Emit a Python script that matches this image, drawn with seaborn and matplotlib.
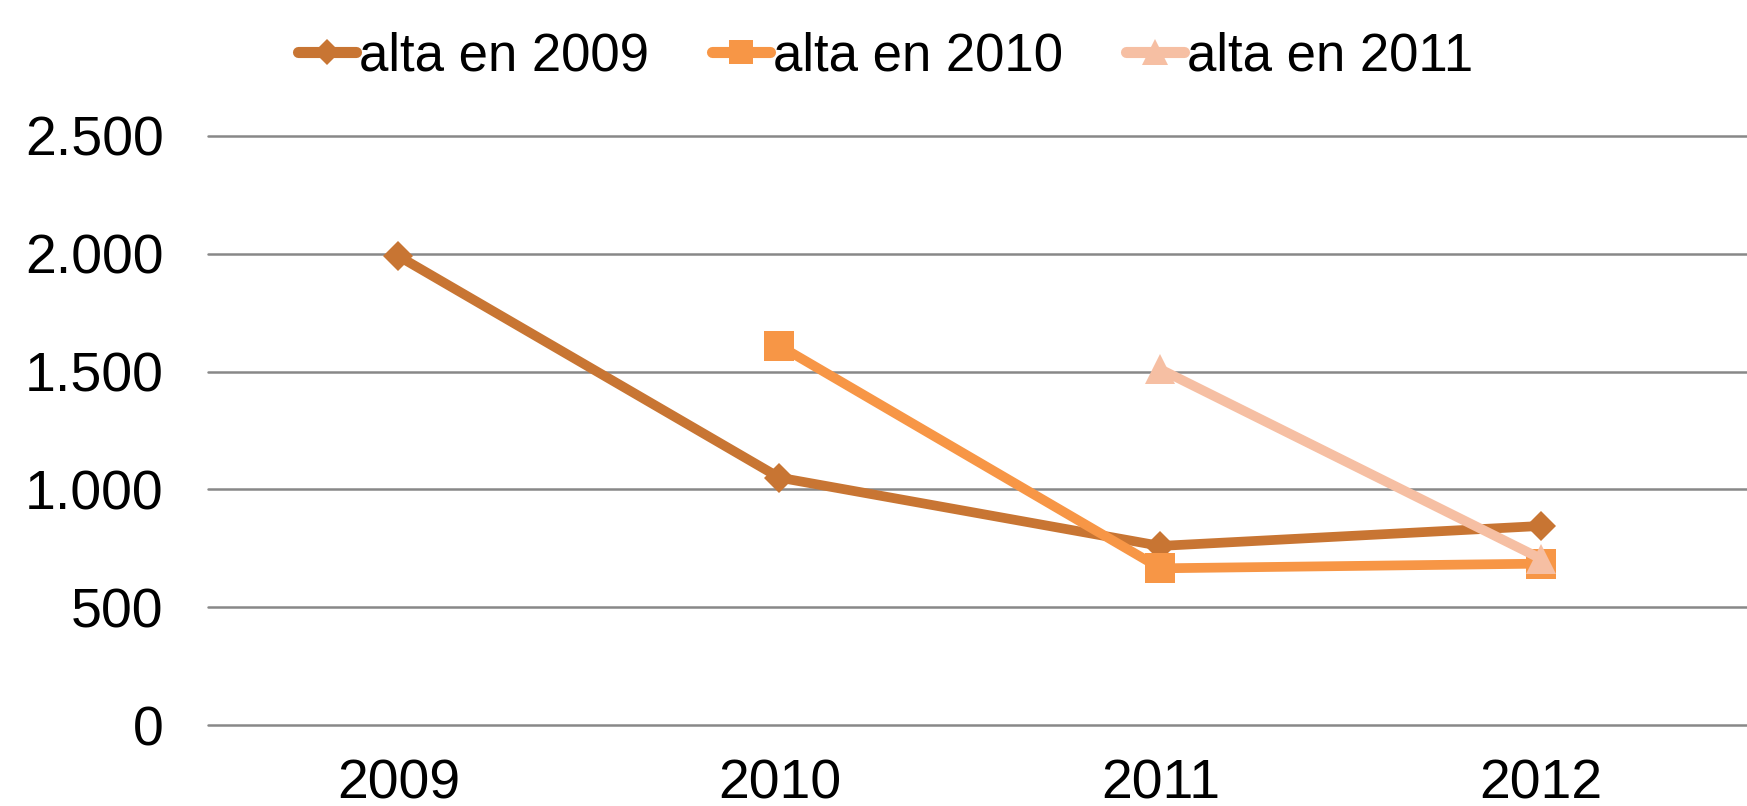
import numpy as np
import pandas as pd
import seaborn as sns
import matplotlib.pyplot as plt

# data
years = ['2009', '2010', '2011', '2012']
alta_2009 = [1990, 1050, 760, 845]
alta_2010 = [np.nan, 1610, 665, 685]
alta_2011 = [np.nan, np.nan, 1510, 705]
series_names = ['alta en 2009', 'alta en 2010', 'alta en 2011']
y_ticks = [0, 500, 1000, 1500, 2000, 2500]
y_tick_labels = ['0', '500', '1.000', '1.500', '2.000', '2.500']

colors = ['#C87533', '#F79646', '#F6BFA3']
markers = ['D', 's', '^']
marker_sizes = {'D': 15, 's': 21, '^': 22}

# long format for seaborn
df = pd.DataFrame({
    'year': years * 3,
    'valor': alta_2009 + alta_2010 + alta_2011,
    'serie': np.repeat(series_names, len(years)),
}).dropna()

sns.set_style('white')
plt.rcParams['font.family'] = ['Liberation Sans', 'DejaVu Sans']
plt.rcParams['text.color'] = 'black'

fig = plt.figure(figsize=(17.47, 8.06), dpi=100)
ax = fig.add_axes([208 / 1747, 1 - 725 / 806, 1 - 208 / 1747, (725 - 136) / 806])

sns.pointplot(data=df, x='year', y='valor', hue='serie', order=years,
              hue_order=series_names, palette=colors, markers=markers,
              linestyles='-', dodge=False, errorbar=None, ax=ax,
              linewidth=7, markersize=15)

for line in ax.lines:
    m = line.get_marker()
    if m in marker_sizes:
        line.set_markersize(marker_sizes[m])
    line.set_markeredgewidth(0)
    line.set_clip_on(False)

ax.set_ylim(0, 2500)
ax.set_xlim(-0.5, 3.54)
ax.set_yticks(y_ticks)
ax.set_yticklabels(y_tick_labels)
ax.set_xlabel('')
ax.set_ylabel('')
ax.tick_params(axis='both', length=0, labelsize=40, colors='black')
ax.tick_params(axis='y', pad=32)
ax.tick_params(axis='x', pad=24)
ax.yaxis.grid(True, color='#888888', linewidth=1.8)
ax.xaxis.grid(False)
for gl in ax.get_ygridlines():
    gl.set_clip_on(False)
ax.set_axisbelow(True)
for s in ax.spines.values():
    s.set_visible(False)

# legend across the top
handles, labels = ax.get_legend_handles_labels()
if ax.get_legend() is not None:
    ax.get_legend().remove()
leg = fig.legend(handles, labels, loc='center', bbox_to_anchor=(0.507, 0.93),
                 ncol=3, frameon=False, fontsize=38, handlelength=1.1,
                 handletextpad=0.05, columnspacing=1.2, borderpad=0,
                 labelcolor='black')
for h in leg.legend_handles:
    h.set_linewidth(8)
    h.set_solid_capstyle('round')
    m = h.get_marker()
    if m in marker_sizes:
        h.set_markersize(marker_sizes[m] * 0.85)
    h.set_markeredgewidth(0)

fig.savefig('out.png', dpi=100)
